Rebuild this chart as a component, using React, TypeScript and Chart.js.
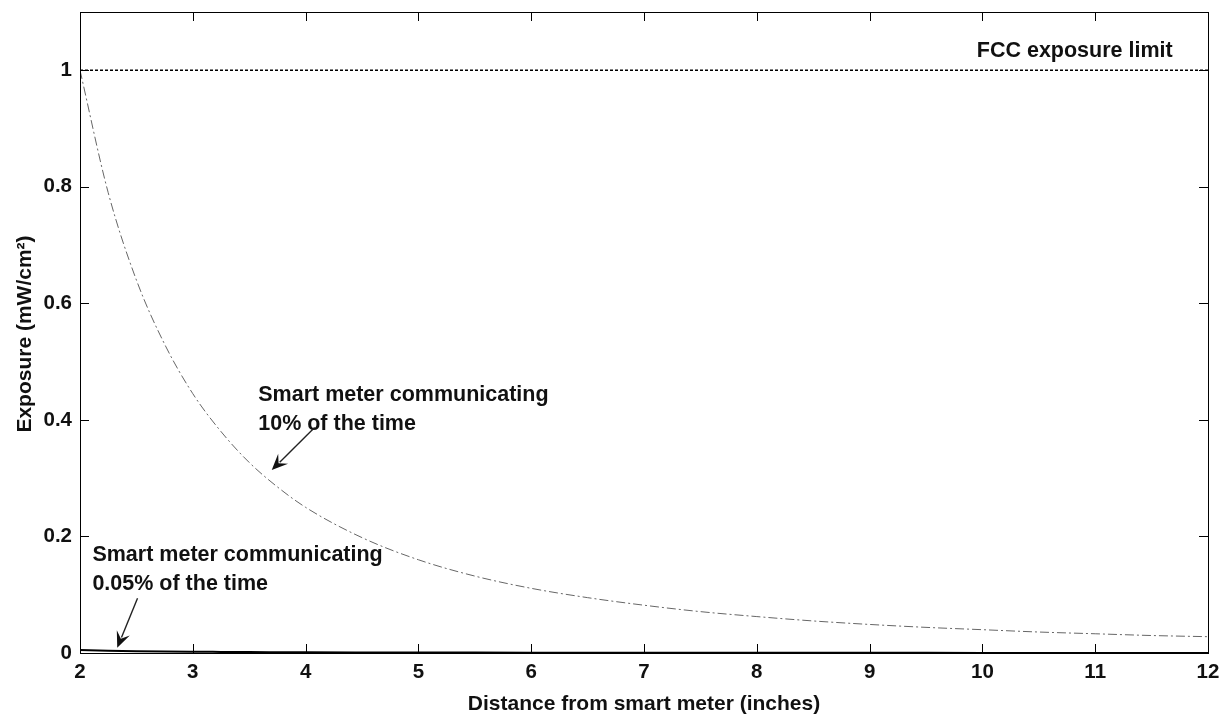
import React, { useEffect, useRef } from "react";
import { Chart, registerables } from "chart.js";

Chart.register(...registerables);

// ---- data ----
const distanceInches = [2, 2.25, 2.5, 2.75, 3, 3.25, 3.5, 3.75, 4, 4.5, 5, 5.5, 6, 6.5, 7, 7.5, 8, 8.5, 9, 9.5, 10, 10.5, 11, 11.5, 12];
const exposure10pct = [1.0, 0.79, 0.64, 0.53, 0.445, 0.38, 0.327, 0.285, 0.25, 0.198, 0.16, 0.132, 0.111, 0.095, 0.082, 0.071, 0.0625, 0.055, 0.049, 0.044, 0.04, 0.036, 0.033, 0.03, 0.028];
const exposure005pct = [0.005, 0.004, 0.0032, 0.0026, 0.0022, 0.0019, 0.0016, 0.0014, 0.0012, 0.001, 0.0008, 0.0007, 0.0006, 0.0005, 0.0004, 0.0004, 0.0003, 0.0003, 0.0003, 0.0003, 0.0002, 0.0002, 0.0002, 0.0002, 0.0002];
const fccLimitX = [2, 12];
const fccLimitY = [1, 1];
const xTickValues = [2, 3, 4, 5, 6, 7, 8, 9, 10, 11, 12];
const yTickValues = [0, 0.2, 0.4, 0.6, 0.8, 1];

const xTitle = "Distance from smart meter (inches)";
const yTitle = "Exposure (mW/cm²)";
const fccLabel = "FCC exposure limit";
const note10Lines = ["Smart meter communicating", "10% of the time"];
const note005Lines = ["Smart meter communicating", "0.05% of the time"];
// annotation anchors in data units: [x, y]
const fccLabelAt = [9.95, 1.033];
const note10At = [3.58, 0.443];
const note10Arrow = [4.08, 0.387, 3.7, 0.314];
const note005At = [2.11, 0.168];
const note005Arrow = [2.51, 0.094, 2.33, 0.009];

const FONT = "'Liberation Sans', Arial, sans-serif";

const toPoints = (xs: number[], ys: number[]) => xs.map((x, i) => ({ x, y: ys[i] }));

const framePlugin = {
  id: "frameAndNotes",
  afterDraw(chart: any) {
    const { ctx, chartArea: a, scales } = chart;
    const xs = scales.x;
    const ys = scales.y;
    ctx.save();
    // frame
    ctx.strokeStyle = "#000";
    ctx.lineWidth = 1;
    ctx.strokeRect(a.left + 0.5, a.top + 0.5, a.right - a.left, a.bottom - a.top);
    // inward ticks
    const tl = 9;
    ctx.beginPath();
    xTickValues.forEach((v) => {
      const px = Math.round(xs.getPixelForValue(v)) + 0.5;
      ctx.moveTo(px, a.bottom);
      ctx.lineTo(px, a.bottom - tl);
      ctx.moveTo(px, a.top);
      ctx.lineTo(px, a.top + tl);
    });
    yTickValues.forEach((v) => {
      const py = Math.round(ys.getPixelForValue(v)) + 0.5;
      ctx.moveTo(a.left, py);
      ctx.lineTo(a.left + tl, py);
      ctx.moveTo(a.right, py);
      ctx.lineTo(a.right - tl, py);
    });
    ctx.stroke();

    // texts
    ctx.fillStyle = "#111";
    ctx.textBaseline = "middle";
    ctx.textAlign = "left";
    ctx.font = `bold 21.5px ${FONT}`;
    ctx.fillText(fccLabel, xs.getPixelForValue(fccLabelAt[0]), ys.getPixelForValue(fccLabelAt[1]));
    const drawLines = (lines: string[], at: number[]) => {
      const x0 = xs.getPixelForValue(at[0]);
      const y0 = ys.getPixelForValue(at[1]);
      lines.forEach((t, i) => ctx.fillText(t, x0, y0 + i * 29));
    };
    drawLines(note10Lines, note10At);
    drawLines(note005Lines, note005At);

    const arrow = (c: number[]) => {
      const x1 = xs.getPixelForValue(c[0]);
      const y1 = ys.getPixelForValue(c[1]);
      const x2 = xs.getPixelForValue(c[2]);
      const y2 = ys.getPixelForValue(c[3]);
      const ang = Math.atan2(y2 - y1, x2 - x1);
      const hl = 16;
      const hw = 7;
      ctx.strokeStyle = "#222";
      ctx.lineWidth = 1.4;
      ctx.beginPath();
      ctx.moveTo(x1, y1);
      ctx.lineTo(x2 - Math.cos(ang) * hl * 0.7, y2 - Math.sin(ang) * hl * 0.7);
      ctx.stroke();
      ctx.fillStyle = "#111";
      ctx.beginPath();
      ctx.moveTo(x2, y2);
      ctx.lineTo(x2 - Math.cos(ang) * hl + Math.sin(ang) * hw, y2 - Math.sin(ang) * hl - Math.cos(ang) * hw);
      ctx.lineTo(x2 - Math.cos(ang) * hl * 0.6, y2 - Math.sin(ang) * hl * 0.6);
      ctx.lineTo(x2 - Math.cos(ang) * hl - Math.sin(ang) * hw, y2 - Math.sin(ang) * hl + Math.cos(ang) * hw);
      ctx.closePath();
      ctx.fill();
    };
    arrow(note10Arrow);
    arrow(note005Arrow);

    // axis titles
    ctx.fillStyle = "#111";
    ctx.font = `bold 21px ${FONT}`;
    ctx.textAlign = "center";
    ctx.fillText(xTitle, (a.left + a.right) / 2, 704);
    ctx.save();
    ctx.translate(25, 334);
    ctx.rotate(-Math.PI / 2);
    ctx.fillText(yTitle, 0, 0);
    ctx.restore();
    ctx.restore();
  },
};

export default function App() {
  const ref = useRef<HTMLCanvasElement | null>(null);
  useEffect(() => {
    document.body.style.margin = "0";
    const canvas = ref.current;
    if (!canvas) return;
    const chart = new Chart(canvas, {
      type: "line",
      data: {
        datasets: [
          {
            label: "FCC exposure limit",
            data: toPoints(fccLimitX, fccLimitY),
            borderColor: "#000",
            borderWidth: 1.6,
            borderDash: [3, 2],
            pointRadius: 0,
          },
          {
            label: "10% of the time",
            data: toPoints(distanceInches, exposure10pct),
            borderColor: "#666",
            borderWidth: 1,
            borderDash: [9, 3, 2, 3],
            pointRadius: 0,
            cubicInterpolationMode: "monotone",
          },
          {
            label: "0.05% of the time",
            data: toPoints(distanceInches, exposure005pct),
            borderColor: "#000",
            borderWidth: 2,
            pointRadius: 0,
            cubicInterpolationMode: "monotone",
          },
        ],
      },
      options: {
        animation: false,
        responsive: false,
        maintainAspectRatio: false,
        layout: { padding: { top: 12, right: 17, left: 0, bottom: 0 } },
        plugins: { legend: { display: false }, tooltip: { enabled: false } },
        scales: {
          x: {
            type: "linear",
            min: 2,
            max: 12,
            afterFit: (s: any) => {
              s.height = 68;
              s.paddingLeft = 0;
              s.paddingRight = 0;
            },
            afterBuildTicks: (s: any) => {
              s.ticks = xTickValues.map((v) => ({ value: v }));
            },
            grid: { display: false, drawTicks: false },
            border: { display: false },
            ticks: {
              padding: 7,
              color: "#111",
              font: { family: FONT, size: 20.5, weight: "bold" },
              callback: (v: any) => String(v),
            },
          },
          y: {
            type: "linear",
            min: 0,
            max: 1.1,
            afterFit: (s: any) => {
              s.width = 80;
              s.paddingTop = 0;
              s.paddingBottom = 0;
            },
            afterBuildTicks: (s: any) => {
              s.ticks = yTickValues.map((v) => ({ value: v }));
            },
            grid: { display: false, drawTicks: false },
            border: { display: false },
            ticks: {
              padding: 8,
              color: "#111",
              font: { family: FONT, size: 20.5, weight: "bold" },
              callback: (v: any) => String(Number(Number(v).toFixed(1))),
            },
          },
        },
      },
      plugins: [framePlugin],
    } as any);
    return () => chart.destroy();
  }, []);
  return (
    <div style={{ position: "absolute", left: 0, top: 0, width: 1225, height: 721, background: "#fff" }}>
      <canvas ref={ref} width={1225} height={721} style={{ width: 1225, height: 721, display: "block" }} />
    </div>
  );
}
